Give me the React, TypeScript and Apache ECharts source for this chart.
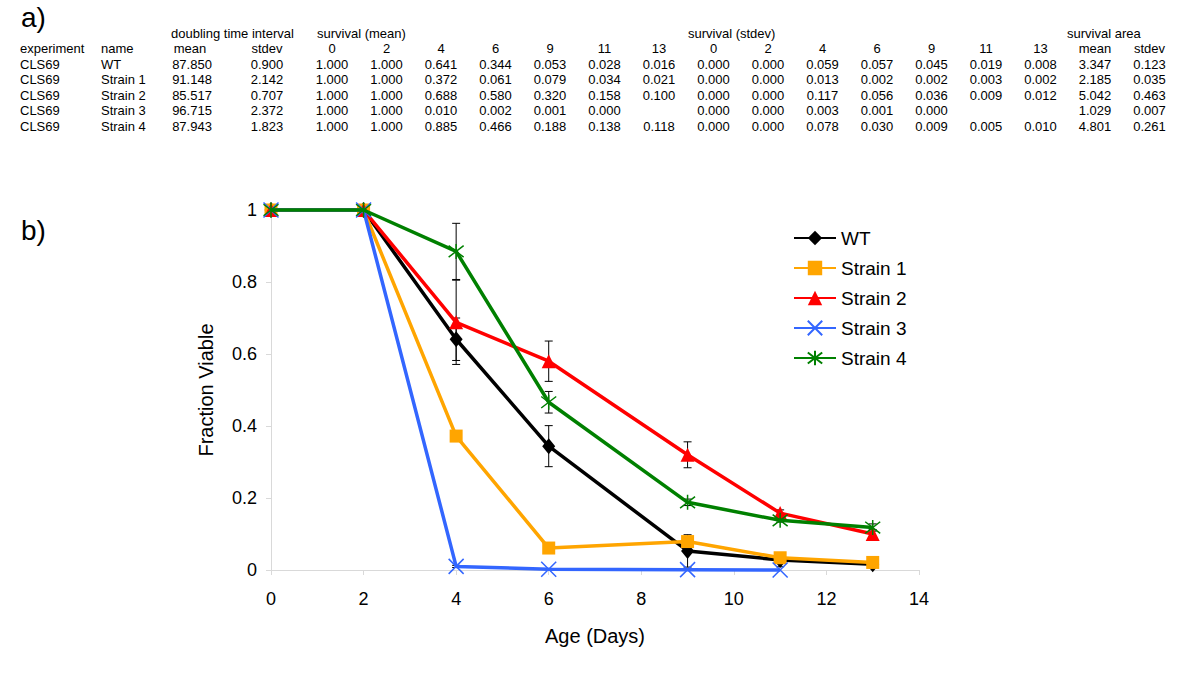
import React, { useEffect, useRef } from "react";
import * as echarts from "echarts";

// ---------- data ----------
const days = [0, 2, 4, 6, 9, 11, 13];
const experiments = ["CLS69", "CLS69", "CLS69", "CLS69", "CLS69"];
const strainNames = ["WT", "Strain 1", "Strain 2", "Strain 3", "Strain 4"];
const doublingMean = [87.85, 91.148, 85.517, 96.715, 87.943];
const doublingSd = [0.9, 2.142, 0.707, 2.372, 1.823];

const wtMean = [1.0, 1.0, 0.641, 0.344, 0.053, 0.028, 0.016];
const s1Mean = [1.0, 1.0, 0.372, 0.061, 0.079, 0.034, 0.021];
const s2Mean = [1.0, 1.0, 0.688, 0.58, 0.32, 0.158, 0.1];
const s3Mean = [1.0, 1.0, 0.01, 0.002, 0.001, 0.0, null];
const s4Mean = [1.0, 1.0, 0.885, 0.466, 0.188, 0.138, 0.118];

const wtSd = [0.0, 0.0, 0.059, 0.057, 0.045, 0.019, 0.008];
const s1Sd = [0.0, 0.0, 0.013, 0.002, 0.002, 0.003, 0.002];
const s2Sd = [0.0, 0.0, 0.117, 0.056, 0.036, 0.009, 0.012];
const s3Sd = [0.0, 0.0, 0.003, 0.001, 0.0, null, null];
const s4Sd = [0.0, 0.0, 0.078, 0.03, 0.009, 0.005, 0.01];

const areaMean = [3.347, 2.185, 5.042, 1.029, 4.801];
const areaSd = [0.123, 0.035, 0.463, 0.007, 0.261];

const allMeans = [wtMean, s1Mean, s2Mean, s3Mean, s4Mean];
const allSds = [wtSd, s1Sd, s2Sd, s3Sd, s4Sd];

const xTicks = { min: 0, max: 14, interval: 2 };
const yTicks = { min: 0, max: 1, interval: 0.2 };

// ---------- styles ----------
const FONT = "'Liberation Sans', Arial, sans-serif";
const colors = ["#000000", "#FFA500", "#FF0000", "#3366FF", "#008000"];
const symbols = [
  "diamond",
  "rect",
  "triangle",
  "path://M0,0L10,10M10,0L0,10",
  "path://M0,0L10,10M10,0L0,10M5,-1.5L5,11.5",
];
const symbolSizes = [[13, 16], 13, 14, 15, 15];
const isStroked = [false, false, false, true, true];

// table layout
const rowY0 = 64;
const rowStep = 15.6;
const hdr1Y = 33;
const hdr2Y = 48.5;
const colStart = 332;
const colStep = 54.5;
const TFS = 13;

function fmt(v: number | null) {
  return v === null || v === undefined ? "" : v.toFixed(3);
}

function buildTable() {
  const els: any[] = [];
  const t = (text: string, x: number, y: number, align = "center", size = TFS) =>
    els.push({
      type: "text",
      x,
      y,
      style: {
        text,
        fill: "#000",
        font: `${size}px ${FONT}`,
        textAlign: align,
        textVerticalAlign: "middle",
      },
    });
  t("a)", 21, 17, "left", 28);
  t("b)", 21, 230, "left", 28);

  t("doubling time interval", 171, hdr1Y, "left");
  t("survival (mean)", 317, hdr1Y, "left");
  t("survival (stdev)", 688, hdr1Y, "left");
  t("survival area", 1067, hdr1Y, "left");

  t("experiment", 20, hdr2Y, "left");
  t("name", 101, hdr2Y, "left");
  t("mean", 190, hdr2Y);
  t("stdev", 267, hdr2Y);
  const colX = (i: number) => colStart + i * colStep;
  days.forEach((d, i) => t(String(d), colX(i), hdr2Y));
  days.forEach((d, i) => t(String(d), colX(7 + i), hdr2Y));
  t("mean", colX(14), hdr2Y);
  t("stdev", colX(15), hdr2Y);

  strainNames.forEach((name, r) => {
    const y = rowY0 + r * rowStep;
    t(experiments[r], 20, y, "left");
    t(name, 101, y, "left");
    t(fmt(doublingMean[r]), 192, y);
    t(fmt(doublingSd[r]), 267, y);
    allMeans[r].forEach((v, i) => t(fmt(v), colX(i), y));
    allSds[r].forEach((v, i) => t(fmt(v), colX(7 + i), y));
    t(fmt(areaMean[r]), colX(14), y);
    t(fmt(areaSd[r]), colX(15), y);
  });
  return els;
}

function buildErrorData() {
  const out: number[][] = [];
  allMeans.forEach((means, s) => {
    means.forEach((m, i) => {
      const sd = allSds[s][i];
      if (m === null || sd === null || sd === 0) return;
      out.push([days[i], m - sd, m + sd]);
    });
  });
  return out;
}

export default function App() {
  const ref = useRef<HTMLDivElement>(null);
  useEffect(() => {
    document.body.style.margin = "0";
    if (!ref.current) return;
    const chart = echarts.init(ref.current, null, { renderer: "svg" });

    const lineSeries = strainNames.map((name, s) => ({
      name,
      type: "line",
      data: allMeans[s]
        .map((v, i) => (v === null ? null : [days[i], v]))
        .filter((p) => p !== null),
      symbol: symbols[s],
      symbolSize: symbolSizes[s],
      showAllSymbol: true,
      clip: false,
      z: 3 + s,
      lineStyle: { color: colors[s], width: 3.5 },
      itemStyle: isStroked[s]
        ? { color: "none", borderColor: colors[s], borderWidth: 1.5 }
        : { color: colors[s], borderWidth: 0 },
      emphasis: { disabled: true },
    }));

    chart.setOption({
      animation: false,
      textStyle: { fontFamily: FONT },
      graphic: buildTable(),
      grid: { left: 271, right: 281, top: 210, bottom: 104 },
      legend: {
        data: strainNames,
        orient: "vertical",
        left: 793,
        top: 228,
        padding: 0,
        itemWidth: 42,
        itemHeight: 18,
        itemGap: 10,
        textStyle: { fontSize: 19, color: "#000", fontFamily: FONT, lineHeight: 20 },
        selectedMode: false,
      },
      xAxis: {
        type: "value",
        min: xTicks.min,
        max: xTicks.max,
        interval: xTicks.interval,
        name: "Age (Days)",
        nameLocation: "middle",
        nameGap: 56,
        nameTextStyle: { fontSize: 20, color: "#000", fontFamily: FONT },
        axisLine: { lineStyle: { color: "#D9D9D9", width: 1 } },
        axisTick: { show: true, length: 5, lineStyle: { color: "#D9D9D9" } },
        axisLabel: { fontSize: 18, color: "#000", margin: 20, fontFamily: FONT },
        splitLine: { show: false },
      },
      yAxis: {
        type: "value",
        min: yTicks.min,
        max: yTicks.max,
        interval: yTicks.interval,
        name: "Fraction Viable",
        nameLocation: "middle",
        nameGap: 55,
        nameRotate: 90,
        nameTextStyle: { fontSize: 20, color: "#000", fontFamily: FONT },
        axisLine: { show: true, lineStyle: { color: "#D9D9D9", width: 1 } },
        axisTick: { show: true, length: 5, lineStyle: { color: "#D9D9D9" } },
        axisLabel: { fontSize: 18, color: "#000", margin: 14, fontFamily: FONT },
        splitLine: { show: false },
      },
      series: [
        {
          name: "errors",
          type: "custom",
          z: 2,
          clip: false,
          data: buildErrorData(),
          encode: { x: 0, y: [1, 2] },
          renderItem: (_p: any, api: any) => {
            const x = api.value(0);
            const top = api.coord([x, api.value(2)]);
            const bot = api.coord([x, api.value(1)]);
            const w = 4;
            const st = { stroke: "#000", lineWidth: 1 };
            return {
              type: "group",
              children: [
                { type: "line", shape: { x1: top[0], y1: top[1], x2: bot[0], y2: bot[1] }, style: st },
                { type: "line", shape: { x1: top[0] - w, y1: top[1], x2: top[0] + w, y2: top[1] }, style: st },
                { type: "line", shape: { x1: bot[0] - w, y1: bot[1], x2: bot[0] + w, y2: bot[1] }, style: st },
              ],
            };
          },
        },
        ...lineSeries,
      ],
    });
    return () => chart.dispose();
  }, []);
  return <div ref={ref} style={{ width: 1200, height: 674 }} />;
}
